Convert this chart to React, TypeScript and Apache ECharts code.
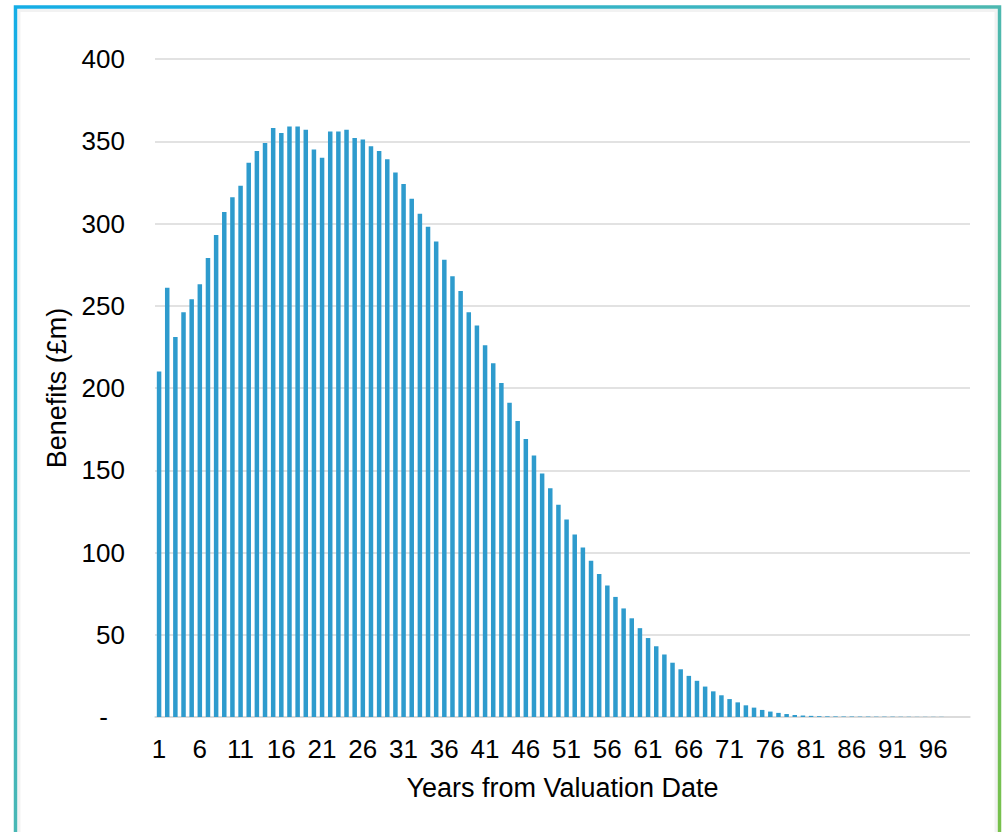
import React, { useEffect, useRef } from "react";
import * as echarts from "echarts";

// Benefits (£m) by year from valuation date (years 1..100)
const benefits: number[] = [
  210, 261, 231, 246, 254, 263, 279, 293, 307, 316,
  323, 337, 344, 349, 358, 355, 359, 359, 357, 345,
  340, 356, 356, 357, 352, 351, 347, 344, 339, 331,
  324, 315, 306, 298, 289, 278, 268, 259, 246, 238,
  226, 215, 203, 191, 180, 169, 159, 148, 139, 129,
  120, 111, 103, 95, 87, 80, 73, 66, 60, 54,
  48, 43, 38, 33, 29, 25, 22, 18.5, 15.6, 13.2,
  10.9, 8.9, 7.1, 5.7, 4.3, 3.3, 2.5, 1.8, 1.2, 0.9,
  0.7, 0.5, 0.4, 0.35, 0.3, 0.3, 0.25, 0.25, 0.2, 0.2,
  0.2, 0.15, 0.15, 0.1, 0.1, 0.1, 0.1, 0, 0, 0,
];
const years: string[] = benefits.map((_, i) => String(i + 1));
const yTicks = { min: 0, max: 400, step: 50 };
const yTitle = "Benefits (£m)";
const xTitle = "Years from Valuation Date";

const FONT = "'Liberation Sans', Arial, Helvetica, sans-serif";
const FS = 26;
const FT = 27;

export default function App() {
  const ref = useRef<HTMLDivElement>(null);
  useEffect(() => {
    if (!ref.current) return;
    const chart = echarts.init(ref.current, undefined, { renderer: "svg" });
    const frameGrad = new echarts.graphic.LinearGradient(0, 0, 1, 1, [
      { offset: 0, color: "#14ade6" },
      { offset: 0.5, color: "#4db8b0" },
      { offset: 1, color: "#7cc242" },
    ]);
    chart.setOption({
      animation: false,
      backgroundColor: "#ffffff",
      textStyle: { fontFamily: FONT },
      grid: { left: 155, right: 34, top: 59, bottom: 115, containLabel: false },
      xAxis: {
        type: "category",
        data: years,
        axisTick: { show: false },
        axisLine: { lineStyle: { color: "#d9d9d9", width: 1.5 } },
        axisLabel: { interval: 4, color: "#000", fontSize: FS, margin: 19, fontFamily: FONT },
        name: xTitle,
        nameLocation: "middle",
        nameGap: 57,
        nameTextStyle: { fontSize: FT, color: "#000", fontFamily: FONT },
      },
      yAxis: {
        type: "value",
        min: yTicks.min,
        max: yTicks.max,
        interval: yTicks.step,
        axisLine: { show: false },
        axisTick: { show: false },
        splitLine: { lineStyle: { color: "#d9d9d9", width: 1.5 } },
        axisLabel: {
          color: "#000",
          fontSize: FS,
          margin: 30,
          fontFamily: FONT,
          formatter: (v: number) => (v === 0 ? "{d|-}" : String(v)),
          rich: { d: { fontSize: FS, color: "#000", padding: [0, 17, 0, 0], fontFamily: FONT } },
        },
        name: yTitle,
        nameLocation: "middle",
        nameGap: 82,
        nameTextStyle: { fontSize: FT, color: "#000", fontFamily: FONT },
      },
      series: [
        {
          type: "bar",
          data: benefits,
          barWidth: 4.5,
          itemStyle: { color: "#2e9bcd" },
        },
      ],
      graphic: [
        {
          type: "rect",
          shape: { x: 19, y: 10.5, width: 977, height: 900 },
          style: { fill: "none", stroke: "rgba(0,0,0,0.05)", lineWidth: 3 },
          silent: true,
        },
        {
          type: "rect",
          shape: { x: 15.5, y: 7, width: 984, height: 900 },
          style: { fill: "none", stroke: frameGrad, lineWidth: 3.5 },
          silent: true,
        },
      ],
    });
    return () => chart.dispose();
  }, []);
  return (
    <div
      ref={ref}
      style={{ position: "absolute", left: 0, top: 0, width: 1004, height: 832 }}
    />
  );
}
